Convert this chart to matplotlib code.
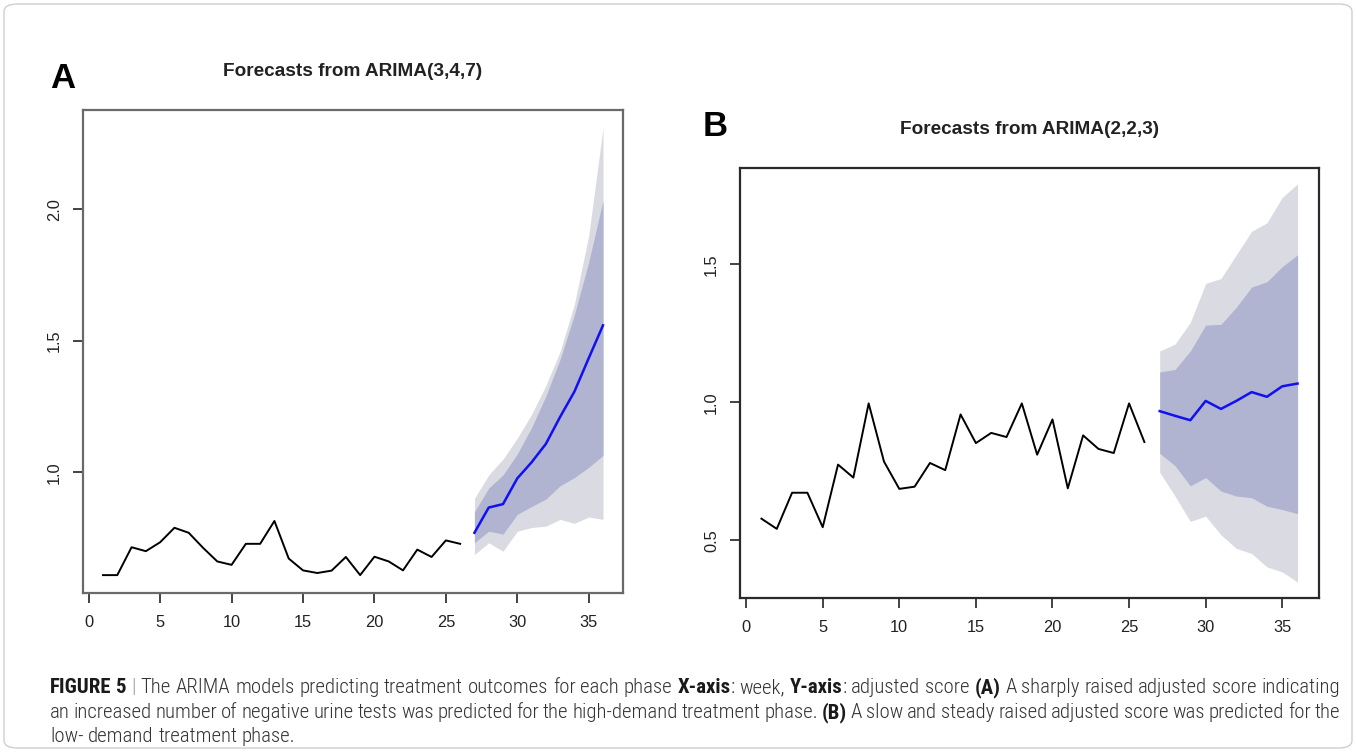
import matplotlib
matplotlib.use('Agg')
import matplotlib.pyplot as plt
from matplotlib.patches import FancyBboxPatch
from matplotlib import font_manager

plt.rcParams['font.family'] = ['Liberation Sans', 'DejaVu Sans']

# ---------------- data ----------------
weeks_hist = list(range(1, 27))
weeks_fc = list(range(27, 37))

a_hist = [0.609, 0.609, 0.715, 0.700, 0.734, 0.789, 0.770, 0.713, 0.661, 0.648,
          0.728, 0.728, 0.815, 0.672, 0.627, 0.617, 0.626, 0.678, 0.609, 0.679,
          0.661, 0.627, 0.706, 0.678, 0.741, 0.728]
a_mean = [0.770, 0.866, 0.879, 0.977, 1.038, 1.108, 1.211, 1.307, 1.434, 1.559]
a_hi80 = [0.850, 0.940, 0.990, 1.070, 1.170, 1.290, 1.430, 1.600, 1.800, 2.034]
a_lo80 = [0.732, 0.776, 0.765, 0.840, 0.870, 0.898, 0.949, 0.980, 1.019, 1.064]
a_hi95 = [0.900, 0.990, 1.050, 1.130, 1.220, 1.330, 1.460, 1.640, 1.900, 2.310]
a_lo95 = [0.687, 0.732, 0.700, 0.776, 0.790, 0.795, 0.821, 0.806, 0.830, 0.821]

b_hist = [0.578, 0.541, 0.672, 0.672, 0.547, 0.774, 0.727, 0.996, 0.785, 0.686,
          0.694, 0.780, 0.754, 0.956, 0.852, 0.889, 0.874, 0.996, 0.810, 0.938,
          0.688, 0.880, 0.831, 0.816, 0.996, 0.856]
b_mean = [0.968, 0.951, 0.935, 1.005, 0.976, 1.005, 1.037, 1.020, 1.058, 1.068]
b_hi80 = [1.110, 1.119, 1.186, 1.280, 1.283, 1.345, 1.418, 1.437, 1.492, 1.535]
b_lo80 = [0.815, 0.770, 0.697, 0.727, 0.678, 0.660, 0.654, 0.623, 0.611, 0.596]
b_hi95 = [1.186, 1.211, 1.290, 1.431, 1.449, 1.535, 1.620, 1.651, 1.743, 1.792]
b_lo95 = [0.746, 0.660, 0.568, 0.587, 0.519, 0.470, 0.452, 0.403, 0.385, 0.348]

x_ticks = [0, 5, 10, 15, 20, 25, 30, 35]
a_yticks = [1.0, 1.5, 2.0]
b_yticks = [0.5, 1.0, 1.5]
a_title = "Forecasts from ARIMA(3,4,7)"
b_title = "Forecasts from ARIMA(2,2,3)"

caption_lines = [
    [("FIGURE 5", "bold"), (" | ", "bar"),
     ("The ARIMA models predicting treatment outcomes for each phase ", "normal"),
     ("X-axis", "bold"), (": week, ", "normal"), ("Y-axis", "bold"),
     (": adjusted score ", "normal"), ("(A)", "bold"),
     (" A sharply raised adjusted score indicating", "normal")],
    [("an increased number of negative urine tests was predicted for the high-demand treatment phase. ", "normal"),
     ("(B)", "bold"),
     (" A slow and steady raised adjusted score was predicted for the", "normal")],
    [("low- demand treatment phase.", "normal")],
]

# ---------------- style ----------------
W, H = 1356, 752
DPI = 100
COL95 = '#DADBE2'
COL80 = '#B0B4D1'
BLUE = '#1010F0'

fig = plt.figure(figsize=(W / DPI, H / DPI), dpi=DPI)
fig.patch.set_facecolor('white')


def px_rect(l, t, r, b):
    return [l / W, 1 - b / H, (r - l) / W, (b - t) / H]


def r_ylim(*series):
    vals = [v for s in series for v in s]
    lo, hi = min(vals), max(vals)
    ext = 0.04 * (hi - lo)
    return lo - ext, hi + ext


def draw_panel(rect, hist, mean, lo80, hi80, lo95, hi95, yticks, spine_col):
    ax = fig.add_axes(rect)
    ax.fill_between(weeks_fc, lo95, hi95, color=COL95, lw=0)
    ax.fill_between(weeks_fc, lo80, hi80, color=COL80, lw=0)
    ax.plot(weeks_hist, hist, color='black', lw=1.4)
    ax.plot(weeks_fc, mean, color=BLUE, lw=1.8)
    ax.set_xlim(-0.4, 37.4)
    ax.set_ylim(*r_ylim(hist, lo95, hi95))
    ax.set_xticks(x_ticks)
    ax.set_xticklabels([str(v) for v in x_ticks])
    ax.set_yticks(yticks)
    ax.set_yticklabels([f"{v:.1f}" for v in yticks], rotation=90, va='center')
    ax.tick_params(axis='both', direction='out', length=7, width=1.2,
                   colors='#222222', labelsize=11.8, labelcolor='#222222')
    ax.tick_params(axis='x', pad=9)
    ax.tick_params(axis='y', pad=8)
    for s in ax.spines.values():
        s.set_color(spine_col)
        s.set_linewidth(1.6)
    return ax


axA = draw_panel(px_rect(83, 110, 623, 593), a_hist, a_mean, a_lo80, a_hi80,
                 a_lo95, a_hi95, a_yticks, '#6a6a6a')
axB = draw_panel(px_rect(740, 168, 1319, 598), b_hist, b_mean, b_lo80, b_hi80,
                 b_lo95, b_hi95, b_yticks, '#2a2a2a')

fig.text(353 / W, 1 - 72 / H, a_title, ha='center', va='center',
         fontsize=13.7, fontweight='bold', color='#222222')
fig.text(1030 / W, 1 - 130 / H, b_title, ha='center', va='center',
         fontsize=13.7, fontweight='bold', color='#222222')
fig.text(63 / W, 1 - 78 / H, "A", ha='center', va='center',
         fontsize=25, fontweight='bold', color='black')
fig.text(715 / W, 1 - 127 / H, "B", ha='center', va='center',
         fontsize=25, fontweight='bold', color='black')

# outer frame
frame = FancyBboxPatch((4 / W, 4 / H), 1 - 8 / W, 1 - 8 / H,
                       boxstyle="round,pad=0,rounding_size=0.01",
                       transform=fig.transFigure, facecolor='none',
                       edgecolor='#cfcfcf', lw=1.0)
fig.patches.append(frame)

# ---------------- caption ----------------
def _w(f):
    try:
        return int(f.weight)
    except Exception:
        return 700 if 'bold' in str(f.weight) else 400


def has_family(name):
    fl = [f for f in font_manager.fontManager.ttflist if f.name == name and f.style == 'normal']
    return any(_w(f) <= 450 for f in fl) and any(_w(f) >= 650 for f in fl)


cap_family = ['Liberation Sans', 'DejaVu Sans']
for cand in ['Liberation Sans Narrow', 'Roboto Condensed', 'Archivo Narrow',
             'Encode Sans Condensed', 'Fira Sans Condensed', 'Asap Condensed',
             'Barlow Semi Condensed']:
    if has_family(cand):
        cap_family = [cand, 'DejaVu Sans']
        break

WEIGHTS = {'bold': 'bold', 'normal': 300, 'bar': 300}
COLORS = {'bold': '#1a1a1a', 'normal': '#333333', 'bar': '#9a9a9a'}

renderer = fig.canvas.get_renderer()


def tokenize(segs):
    toks = []
    pending = False
    for text, w in segs:
        parts = text.split(' ')
        for i, p in enumerate(parts):
            if i > 0:
                pending = True
            if p == '':
                continue
            toks.append((p, w, pending and len(toks) > 0))
            pending = False
    return toks


def measure(s, w, fs):
    t = fig.text(0, 0, s, fontsize=fs, fontweight=WEIGHTS[w], family=cap_family)
    bb = t.get_window_extent(renderer)
    t.remove()
    return bb.width


def space_w(fs):
    return measure("a a", 'normal', fs) - measure("aa", 'normal', fs)


def natural_width(toks, fs):
    sw = space_w(fs)
    return sum(measure(p, w, fs) for p, w, _ in toks) + sw * sum(1 for *_, g in toks if g)


x_left, x_right = 50, 1340
tok_lines = [tokenize(l) for l in caption_lines]
fs0 = 10.0
w0 = natural_width(tok_lines[0], fs0)
cap_fs = fs0 * (x_right - x_left) / w0
baselines = [693, 718, 742]

for li, toks in enumerate(tok_lines):
    sw = space_w(cap_fs)
    widths = [measure(p, w, cap_fs) for p, w, _ in toks]
    ngaps = sum(1 for *_, g in toks if g)
    gap = sw
    if li < len(tok_lines) - 1 and ngaps:
        gap = (x_right - x_left - sum(widths)) / ngaps
    x = x_left
    for (p, w, g), wd in zip(toks, widths):
        if g:
            x += gap
        fig.text(x / W, 1 - baselines[li] / H, p, fontsize=cap_fs,
                 fontweight=WEIGHTS[w], family=cap_family,
                 color=COLORS[w], ha='left', va='baseline')
        x += wd

fig.savefig('out.png', dpi=DPI, facecolor='white')
